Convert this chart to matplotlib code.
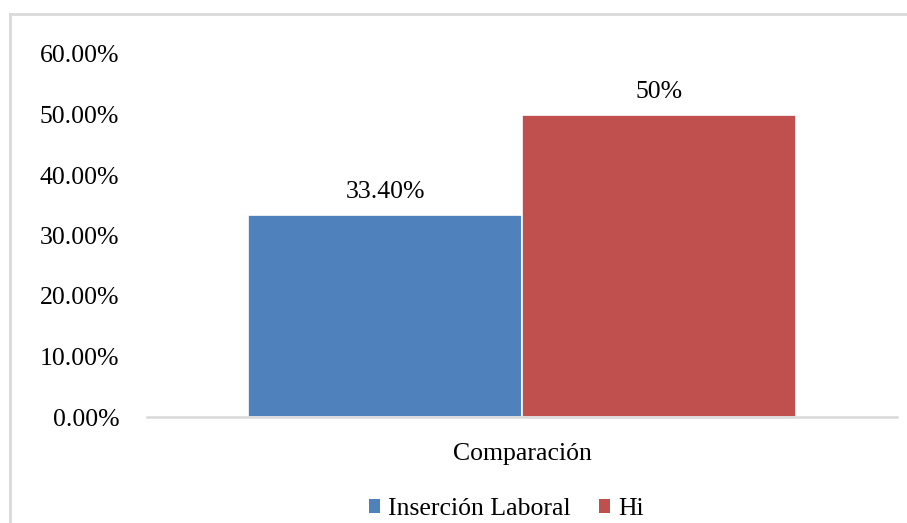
import matplotlib.pyplot as plt
from matplotlib.lines import Line2D
from matplotlib.patches import Patch

# Comparison data
categoria = ["Comparación"]
series = ["Inserción Laboral", "Hi"]
valores = [0.334, 0.50]
etiquetas = ["33.40%", "50%"]
colores = ["#4F81BD", "#C0504D"]

plt.rcParams["font.family"] = ["Liberation Serif", "DejaVu Serif"]
fs = 18.5

fig = plt.figure(figsize=(9.07, 5.23), dpi=100)
ax = fig.add_axes([147 / 907, 1 - 417 / 523, 750 / 907, (417 - 54) / 523])

offsets = [-0.1825, 0.1825]
ancho = 0.365
for off, v, lab, c, s in zip(offsets, valores, etiquetas, colores, series):
    ax.bar(off, v, width=ancho, color=c, edgecolor="white", linewidth=1.2, label=s)
    ax.text(off, v + 0.019, lab, ha="center", va="bottom", fontsize=fs)

ax.set_xlim(-0.5, 0.5)
ax.set_ylim(0, 0.6)
ax.set_yticks([0, 0.1, 0.2, 0.3, 0.4, 0.5, 0.6])
ax.set_yticklabels([f"{t * 100:.2f}%" for t in ax.get_yticks()])
ax.set_xticks([0])
ax.set_xticklabels(categoria)
ax.tick_params(axis="y", length=0, pad=20, labelsize=fs)
ax.tick_params(axis="x", length=0, pad=19, labelsize=fs)

for side in ["top", "right", "left"]:
    ax.spines[side].set_visible(False)
ax.spines["bottom"].set_color("#D9D9D9")
ax.spines["bottom"].set_linewidth(1.8)

# legend below the category label
handles = [Patch(facecolor=c, edgecolor="none") for c in colores]
fig.legend(handles, series, loc="center", bbox_to_anchor=(0.558, 1 - 509 / 523),
           ncol=2, frameon=False, fontsize=fs, handlelength=0.45, handleheight=0.45,
           handletextpad=0.3, columnspacing=1.1)

# chart area border (top and left visible)
fig.add_artist(Line2D([10 / 907, 1.0], [1 - 14 / 523, 1 - 14 / 523],
                      transform=fig.transFigure, color="#D9D9D9", linewidth=2))
fig.add_artist(Line2D([10 / 907, 10 / 907], [0, 1 - 14 / 523],
                      transform=fig.transFigure, color="#D9D9D9", linewidth=2))

fig.savefig("out.png", dpi=100, facecolor="white")
